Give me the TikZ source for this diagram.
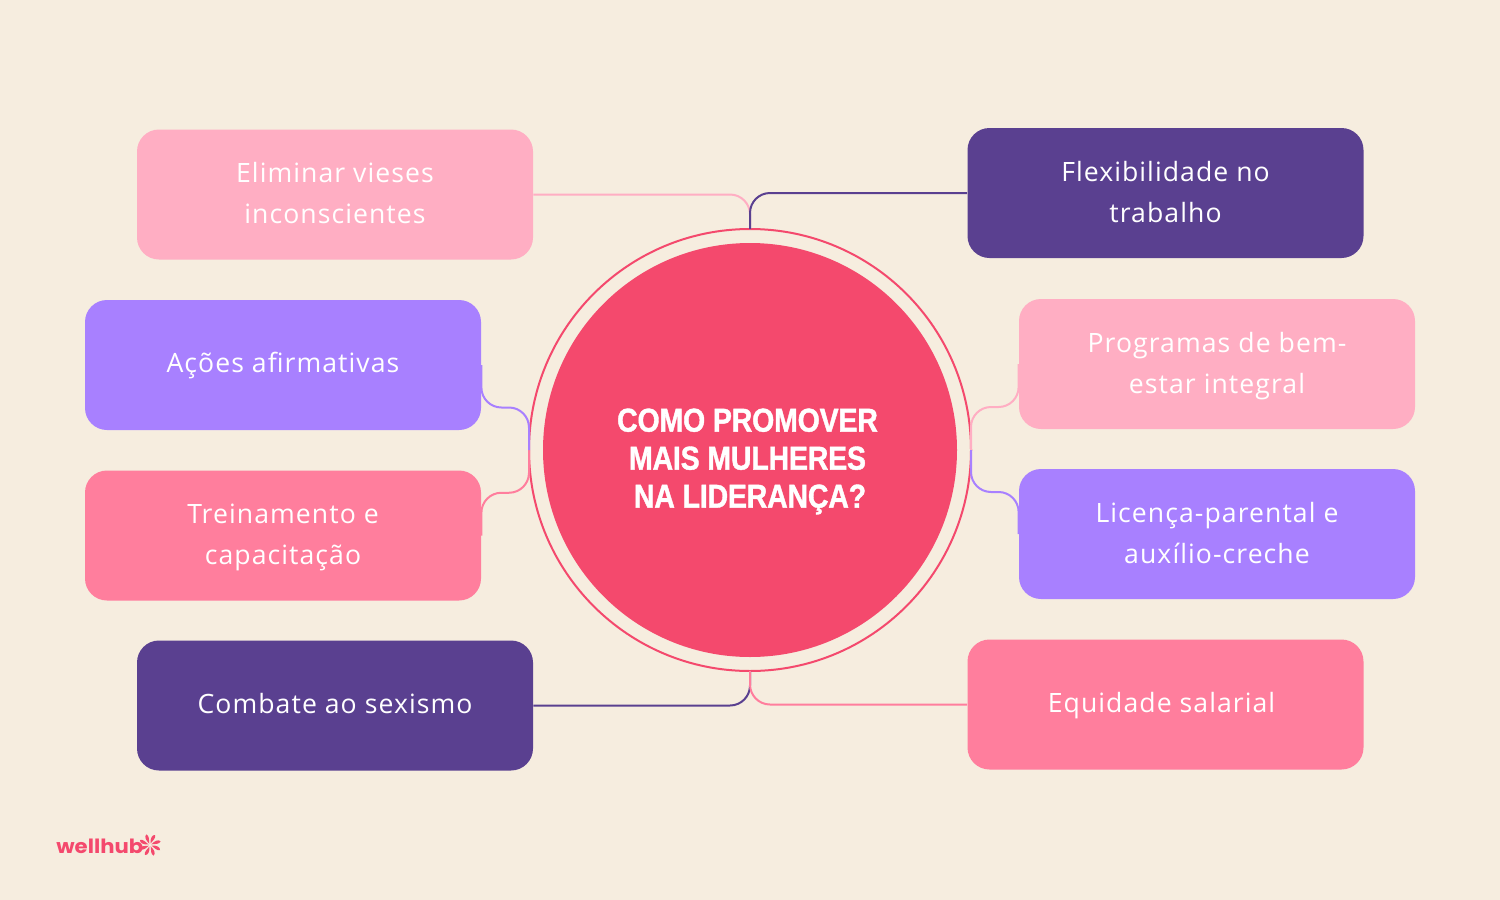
\documentclass[tikz,border=0pt]{standalone}
\usepackage{fontspec}
\usepackage{xcolor}
\usepackage{tikz}
\usetikzlibrary{calc}
\setmainfont{Open Sans}[LetterSpace=4]
\newfontfamily\titlefont{Liberation Sans}[BoldFont={Liberation Sans Bold},BoldFeatures={FakeStretch=0.86,FakeBold=1.2},LetterSpace=-0.5]
\newfontfamily\logofont{Poppins}[BoldFont={Poppins Bold},BoldFeatures={FakeStretch=1.08}]
\definecolor{bgcream}{HTML}{F6EDDF}
\definecolor{rosepale}{HTML}{FFAEC3}
\definecolor{rosemid}{HTML}{FF7E9D}
\definecolor{grape}{HTML}{5A4090}
\definecolor{lilac}{HTML}{A880FF}
\definecolor{hubred}{HTML}{F4496D}
\tikzset{
	topic/.style={minimum width=198pt, minimum height=65pt, rounded corners=11pt, inner sep=0pt, align=center, text=white, font=\fontsize{13.3pt}{20.5pt}\selectfont,
		execute at begin node={\rule{0pt}{#1}}, execute at end node={\rule[-3.5pt]{0pt}{3.5pt}}},
	topic/.default=32.5pt,
	link/.style={line width=1pt, rounded corners=10pt},
}
\begin{document}
\begin{tikzpicture}[x=0.5pt, y=-0.5pt]
	\fill[bgcream] (0,0) rectangle (1500,900);
	\useasboundingbox (0,0) rectangle (1500,900);
	% centre
	\node[circle, draw=hubred, line width=1pt, minimum size=221pt, inner sep=0pt, outer sep=0pt] (hubring) at (750,450) {};
	\node[circle, fill=hubred, minimum size=207pt, inner sep=0pt] (hubdisc) at (750,450) {};
	\node[text=white, align=center, font=\titlefont\bfseries\fontsize{16.55pt}{19pt}\selectfont] (hubtitle) at (747.5,461.5) {COMO PROMOVER\\MAIS MULHERES\\\hspace*{2.5pt}NA LIDERANÇA?};
	% left side
	\node[topic, fill=rosepale] (vieses) at (335,194.5) {Eliminar vieses\\inconscientes};
	\node[topic=11.35pt, fill=lilac] (acoes) at (283,365) {Ações afirmativas};
	\node[topic, fill=rosemid] (treino) at (283,535.5) {Treinamento e\\capacitação};
	\node[topic=11.35pt, fill=grape] (sexismo) at (335,705.5) {Combate ao sexismo};
	% right side
	\node[topic, fill=grape] (flex) at (1165.5,193) {Flexibilidade no\\trabalho};
	\node[topic, fill=rosepale] (bemestar) at (1217,364) {Programas de bem-\\estar integral};
	\node[topic, fill=lilac] (licenca) at (1217,534) {Licença-parental e\\auxílio-creche};
	\node[topic=11.35pt, fill=rosemid] (salario) at (1165.5,704.5) {Equidade salarial\hspace*{4pt}};
	% links
	\coordinate (acoesmid) at ($(acoes.east)!.5!(hubring.west)$);
	\coordinate (treinomid) at ($(treino.east)!.5!(hubring.west)$);
	\coordinate (bemmid) at ($(bemestar.west)!.5!(hubring.east)$);
	\coordinate (licmid) at ($(licenca.west)!.5!(hubring.east)$);
	\draw[link, rosepale] (vieses.east) -| (hubring.north);
	\draw[link, grape] (flex.west) -| (hubring.north);
	\draw[link, rosemid] (treino.east) -- (treino.east |- treinomid) -- (hubring.west |- treinomid) -- (hubring.west);
	\draw[link, lilac] (acoes.east) -- (acoes.east |- acoesmid) -- (hubring.west |- acoesmid) -- (hubring.west);
	\draw[link, rosepale] (bemestar.west) -- (bemestar.west |- bemmid) -- (hubring.east |- bemmid) -- (hubring.east);
	\draw[link, lilac] (licenca.west) -- (licenca.west |- licmid) -- (hubring.east |- licmid) -- (hubring.east);
	\draw[link, grape] (sexismo.east) -| (hubring.south);
	\draw[link, rosemid] (salario.west) -| (hubring.south);
	% logo
	\node[text=hubred, inner sep=0pt, anchor=west, font=\logofont\bfseries\fontsize{9.8pt}{10pt}\selectfont] (wellhub) at (56,846) {wellhub};
	\coordinate (wheel) at (150,845);
	\foreach \ang in {0,45,...,315} {
		\fill[hubred, rotate around={\ang:(wheel)}] ($(wheel)+(0.5,-1.5)$) .. controls ($(wheel)+(0,-6)$) and ($(wheel)+(2,-10.5)$) .. ($(wheel)+(5,-10)$) .. controls ($(wheel)+(6,-7)$) and ($(wheel)+(3,-4.5)$) .. cycle;
	}
\end{tikzpicture}
\end{document}
